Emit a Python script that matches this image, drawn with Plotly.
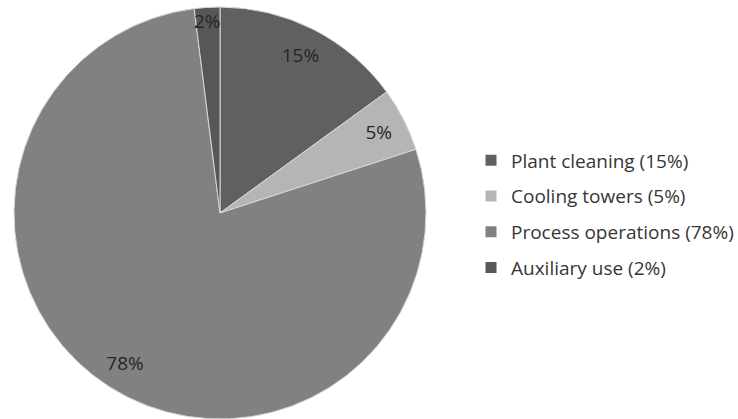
import math
import plotly.graph_objects as go

labels = ["Plant cleaning (15%)", "Cooling towers (5%)", "Process operations (78%)", "Auxiliary use (2%)"]
values = [15, 5, 78, 2]
slice_text = ["15%", "5%", "78%", "2%"]
colors = ["#606060", "#b5b5b5", "#818181", "#575757"]

W, H = 738, 419
ML, MR, MT, MB = 0, 0, 7, 0
dom = dict(x=[14/W, 426/W], y=[0, 1])

# label text shown inside the ring (narrow slice gets its label as annotation)
ring_text = [t if v >= 5 else "" for t, v in zip(slice_text, values)]

fig = go.Figure()
fig.add_trace(go.Pie(
    labels=labels, values=values,
    textinfo="none", sort=False, direction="clockwise", rotation=0,
    marker=dict(colors=colors, line=dict(color="#d8d8d8", width=1)),
    domain=dom, hoverinfo="skip", showlegend=False,
))
fig.add_trace(go.Pie(
    labels=labels, values=values, text=ring_text,
    textinfo="text", textposition="inside", insidetextorientation="horizontal",
    hole=0.72, sort=False, direction="clockwise", rotation=0,
    marker=dict(colors=["rgba(0,0,0,0)"] * 4, line=dict(width=0)),
    textfont=dict(family="Open Sans", size=19, color="#262626"),
    domain=dom, hoverinfo="skip", showlegend=False,
))

# annotation for narrow slices, placed at slice mid-angle near the rim
pw, ph = W - ML - MR, H - MT - MB
cx = (dom["x"][0] + dom["x"][1]) / 2
cy = 0.5
r_px = min((dom["x"][1] - dom["x"][0]) * pw, ph) / 2
total = sum(values)
cum = 0
for t, v in zip(slice_text, values):
    mid = (cum + v / 2) / total * 2 * math.pi
    cum += v
    if v >= 5:
        continue
    rr = 0.935 * r_px
    fig.add_annotation(
        x=cx + rr * math.sin(mid) / pw, y=cy + rr * math.cos(mid) / ph,
        xref="paper", yref="paper", xanchor="center", yanchor="middle",
        text=t, showarrow=False,
        font=dict(family="Open Sans", size=19, color="#262626"),
    )

for lab, col in zip(labels, colors):
    fig.add_trace(go.Scatter(
        x=[None], y=[None], mode="markers", name=lab, legendgroup=lab,
        marker=dict(symbol="square", size=11, color=col),
        hoverinfo="skip",
    ))

fig.update_xaxes(visible=False)
fig.update_yaxes(visible=False)
fig.update_layout(
    width=W, height=H,
    margin=dict(l=ML, r=MR, t=MT, b=MB, autoexpand=False),
    paper_bgcolor="white",
    plot_bgcolor="rgba(0,0,0,0)",
    showlegend=True,
    legend=dict(
        x=471/W, y=0.4976, xanchor="left", yanchor="middle",
        font=dict(family="Open Sans", size=19, color="#363636"),
        itemwidth=30,
        tracegroupgap=8,
        bgcolor="rgba(0,0,0,0)",
    ),
)

fig.write_html("out.html")
